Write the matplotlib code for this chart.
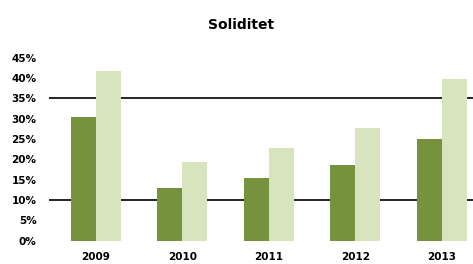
import numpy as np
import matplotlib
matplotlib.use("Agg")
import matplotlib.pyplot as plt

years = ["2009", "2010", "2011", "2012", "2013"]
series_dark = [30.5, 13.0, 15.5, 18.6, 24.9]
series_light = [41.7, 19.4, 22.9, 27.8, 39.7]
yticks = [0, 5, 10, 15, 20, 25, 30, 35, 40, 45]
gridlines = [10, 35]

fig = plt.figure(figsize=(4.73, 2.64), dpi=100)
ax = fig.add_axes([0.1036, 0.0883, 0.8964, 0.693])

x = np.arange(len(years))
w = 0.29
for g in gridlines:
    ax.axhline(g, color="black", lw=1.2, zorder=1)
ax.bar(x - w / 2, series_dark, w, color="#76923C", zorder=2)
ax.bar(x + w / 2, series_light, w, color="#D7E4BD", zorder=2)

ax.set_xlim(-0.54, 4.36)
ax.set_ylim(0, 45)
ax.set_yticks(yticks)
ax.set_yticklabels([f"{t}%" for t in yticks], fontsize=7.5, fontweight="bold")
ax.set_xticks(x)
ax.set_xticklabels(years, fontsize=7.5, fontweight="bold")
ax.tick_params(length=0, pad=9, axis="y")
ax.tick_params(length=0, pad=8, axis="x")
for s in ax.spines.values():
    s.set_visible(False)

fig.text(0.51, 0.905, "Soliditet", ha="center", va="center", fontsize=10, fontweight="bold")

fig.savefig("out.png", dpi=100)
